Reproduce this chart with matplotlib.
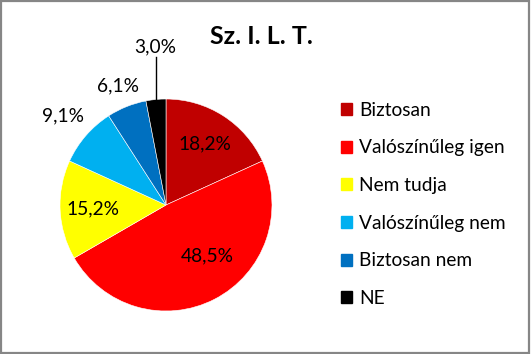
import numpy as np
import matplotlib.pyplot as plt
from matplotlib.patches import Rectangle

plt.rcParams['font.family'] = ['Lato', 'DejaVu Sans']

categories = ["Biztosan", "Valószínűleg igen", "Nem tudja",
              "Valószínűleg nem", "Biztosan nem", "NE"]
counts = [6, 16, 5, 3, 2, 1]
labels = ["18,2%", "48,5%", "15,2%", "9,1%", "6,1%", "3,0%"]
colors = ["#C00000", "#FF0000", "#FFFF00", "#00B0F0", "#0070C0", "#000000"]

W, H, DPI = 531, 354, 100
fig = plt.figure(figsize=(W / DPI, H / DPI), dpi=DPI)

# pie axes: centre (166, 205), radius ~106 px
r = 106
cx, cy = 166, 205
ax = fig.add_axes([(cx - r) / W, 1 - (cy + r) / H, 2 * r / W, 2 * r / H])
wedges, _ = ax.pie(counts, colors=colors, startangle=90, counterclock=False,
                   radius=1.0, wedgeprops=dict(edgecolor="white", linewidth=0.4))
ax.set_xlim(-1, 1)
ax.set_ylim(-1, 1)
ax.set_aspect("equal")

# label placement (radial factor, angle offset in degrees)
place = [(0.68, 0), (0.62, 12), (0.69, 0), (1.29, 0), (1.21, 0), (1.5, -1.5)]
for w, lab, (rf, off) in zip(wedges, labels, place):
    ang = np.deg2rad((w.theta1 + w.theta2) / 2 + off)
    x, y = rf * np.cos(ang), rf * np.sin(ang)
    ax.text(x, y, lab, ha="center", va="center", fontsize=13.8, color="black",
            clip_on=False)

# leader line for the smallest slice
w = wedges[-1]
ang = np.deg2rad((w.theta1 + w.theta2) / 2)
ex, ey = np.cos(ang), np.sin(ang)
ax.plot([ex, ex], [ey, 1.4], color="black", linewidth=1, clip_on=False)

fig.text(261 / W, 1 - 37 / H, "Sz. I. L. T.", ha="center", va="center",
         fontsize=18, fontweight="bold")

handles = [Rectangle((0, 0), 1, 1, color=c) for c in colors]
leg = fig.legend(handles, categories, loc="upper left",
                 bbox_to_anchor=(333 / W, 1 - 94 / H), frameon=False,
                 fontsize=13.8, handlelength=0.6, handleheight=0.6,
                 handletextpad=0.35, labelspacing=1.08, borderaxespad=0)

fig.add_artist(Rectangle((0.002, 0.004), 0.994, 0.992, transform=fig.transFigure,
                         fill=False, edgecolor="#868686", linewidth=1.6))

fig.savefig("out.png", dpi=DPI)
